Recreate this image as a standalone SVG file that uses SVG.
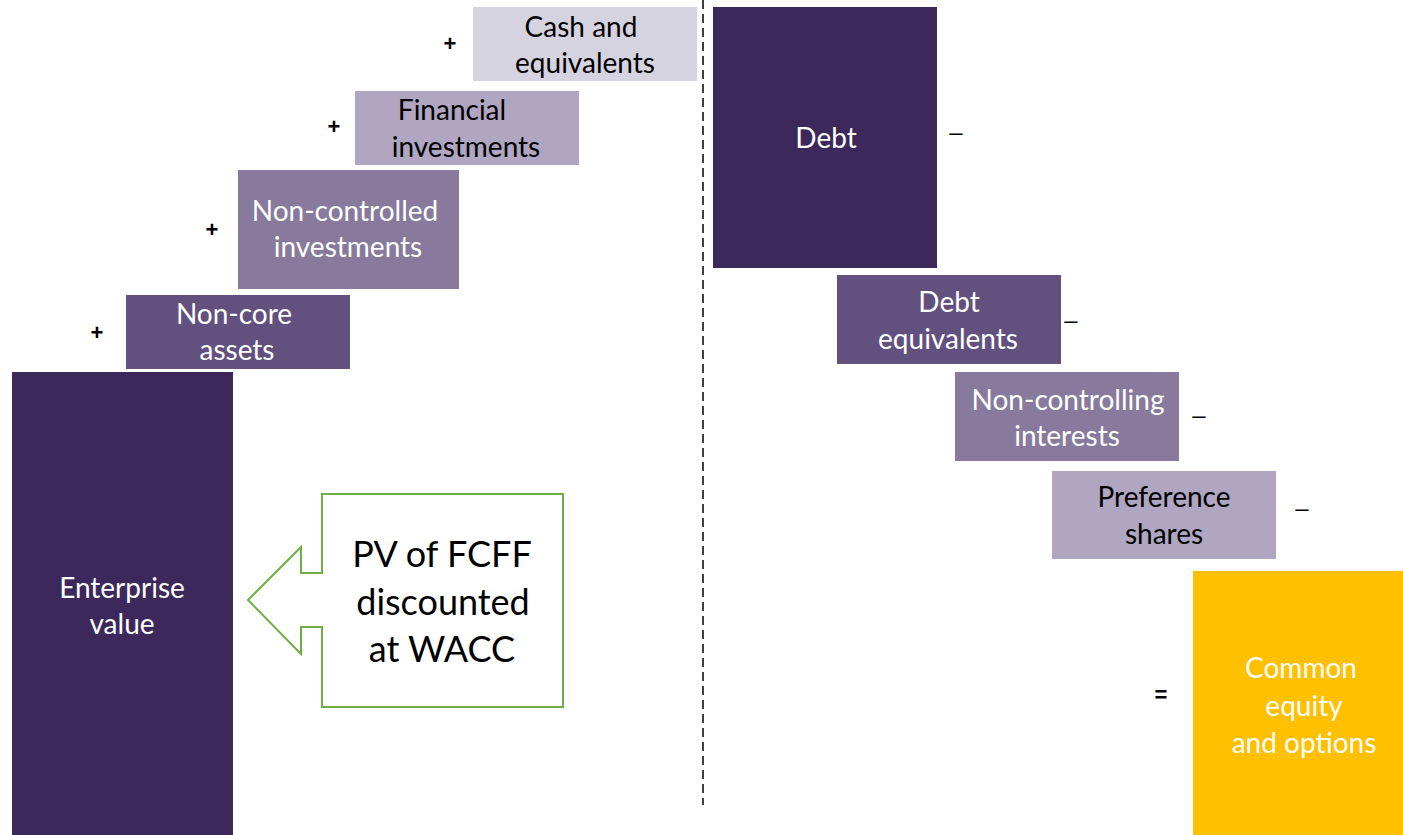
<svg xmlns="http://www.w3.org/2000/svg" width="1403" height="835" viewBox="0 0 1403 835">
<style>
.t{font-family:Lato,"Liberation Sans",sans-serif;font-size:28px;text-anchor:middle}
.w{fill:#ffffff}
.k{fill:#000000}
.pv{font-family:Lato,"Liberation Sans",sans-serif;font-size:36px;text-anchor:middle;fill:#000}
.s{font-family:"Liberation Sans",sans-serif;font-size:22px;font-weight:bold;text-anchor:middle;fill:#000}
.m{font-family:"Liberation Sans",sans-serif;font-size:24px;text-anchor:middle;fill:#000}
</style>
<rect width="1403" height="835" fill="#ffffff"/>
<g id="connectors">
<line x1="703" y1="0" x2="703" y2="805" stroke="#000" stroke-width="1.5" stroke-dasharray="9,5"/>
</g>
<g id="cash">
<rect x="473" y="7" width="224" height="74" fill="#D6D3E1"/>
<text class="t k" x="581" y="37">Cash and</text>
<text class="t k" x="585" y="73">equivalents</text>
<text class="s" x="450" y="51">+</text>
</g>
<g id="financial">
<rect x="355" y="91" width="224" height="74" fill="#B0A6C1"/>
<text class="t k" x="452" y="120">Financial</text>
<text class="t k" x="466" y="157">investments</text>
<text class="s" x="334" y="134">+</text>
</g>
<g id="noncontrolled">
<rect x="238" y="170" width="221" height="119" fill="#877A9C"/>
<text class="t w" x="345" y="221">Non-controlled</text>
<text class="t w" x="348" y="257">investments</text>
<text class="s" x="212" y="237">+</text>
</g>
<g id="noncore">
<rect x="126" y="295" width="224" height="74" fill="#62507F"/>
<text class="t w" x="234" y="324">Non-core</text>
<text class="t w" x="237" y="360">assets</text>
<text class="s" x="97" y="340">+</text>
</g>
<g id="ev">
<rect x="12" y="372" width="221" height="463" fill="#3C285A"/>
<text class="t w" x="122" y="598">Enterprise</text>
<text class="t w" x="122" y="634">value</text>
</g>
<g id="pv">
<path d="M322,494 H563 V707 H322 V627 H301 V654 L248,600 L301,547 V573 H322 Z" fill="#ffffff" stroke="#70AD47" stroke-width="2"/>
<text class="pv" x="442" y="567">PV of FCFF</text>
<text class="pv" x="443" y="615">discounted</text>
<text class="pv" x="442" y="662">at WACC</text>
</g>
<g id="debt">
<rect x="713" y="7" width="224" height="261" fill="#3C285A"/>
<text class="t w" x="826" y="148">Debt</text>
<text class="m" x="956" y="140">–</text>
</g>
<g id="debteq">
<rect x="837" y="275" width="224" height="89" fill="#62507F"/>
<text class="t w" x="949" y="312">Debt</text>
<text class="t w" x="948" y="349">equivalents</text>
<text class="m" x="1071" y="328">–</text>
</g>
<g id="nci">
<rect x="955" y="372" width="224" height="89" fill="#877A9C"/>
<text class="t w" x="1068" y="410">Non-controlling</text>
<text class="t w" x="1067" y="446">interests</text>
<text class="m" x="1199" y="423">–</text>
</g>
<g id="pref">
<rect x="1052" y="471" width="224" height="88" fill="#B0A6C1"/>
<text class="t k" x="1164" y="507">Preference</text>
<text class="t k" x="1164" y="544">shares</text>
<text class="m" x="1302" y="516">–</text>
</g>
<g id="equity">
<rect x="1193" y="571" width="210" height="264" fill="#FFC000"/>
<text class="t w" x="1301" y="678">Common</text>
<text class="t w" x="1304" y="716">equity</text>
<text class="t w" x="1304" y="753">and options</text>
<text class="s" x="1161" y="702">=</text>
</g>
</svg>
